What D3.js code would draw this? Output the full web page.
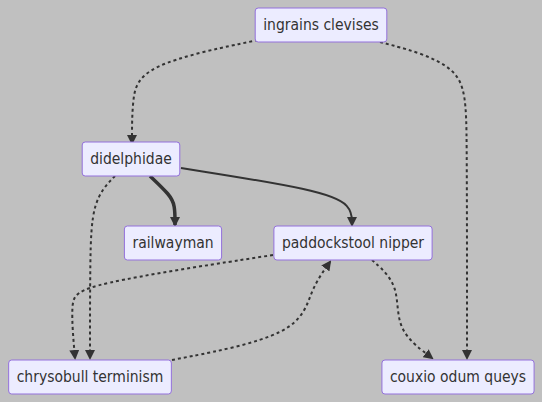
<!DOCTYPE html>
<html><head><meta charset="utf-8">
<script src="https://cdn.jsdelivr.net/npm/d3@7"></script>
<style>body{margin:0;background:#c0c0c0}</style></head>
<body><svg id="c" width="542" height="402"></svg>
<script>
const nodes = ["ingrains clevises","didelphidae","railwayman","paddockstool nipper","chrysobull terminism","couxio odum queys"];
const edges = [
 {s:0,t:1,style:"dot"},{s:0,t:5,style:"dot"},{s:1,t:2,style:"thick"},{s:1,t:3,style:"solid"},
 {s:1,t:4,style:"dot"},{s:3,t:4,style:"dot"},{s:4,t:3,style:"dot"},{s:3,t:5,style:"dot"}];
// layout (centers)
const layout = [[321,25],[131,159],[173,243],[353,243],[90,377],[458,377]];
const routes = [
 [[258,40],[140,65],[132,100],[132,143]],
 [[380,42],[465,65],[467,120],[467,358]],
 [[150,176],[170,195],[175,205],[175,225]],
 [[181,168],[320,190],[352,205],[352,225]],
 [[115,176],[92,200],[90,260],[90,358]],
 [[273,255],[80,285],[70,300],[75,358]],
 [[172,360],[300,335],[310,290],[330,262]],
 [[372,260],[400,285],[395,330],[432,358]]];
const svg = d3.select("#c");
const defs = svg.append("defs");
defs.append("marker").attr("id","ah").attr("viewBox","0 0 10 10").attr("refX",8).attr("refY",5)
 .attr("orient","auto").attr("markerUnits","userSpaceOnUse")
 .attr("markerWidth",10).attr("markerHeight",10)
 .append("path").attr("d","M0,0L10,5L0,10z").attr("fill","#333");
const line = d3.line().curve(d3.curveBasis);
edges.forEach((e,i)=>{
 svg.append("path").attr("d",line(routes[i])).attr("fill","none").attr("stroke","#333")
  .attr("stroke-width",e.style==="thick"?3.5:2)
  .attr("stroke-dasharray",e.style==="dot"?"3,3":null)
  .attr("marker-end","url(#ah)");
});
nodes.forEach((n,i)=>{
 const g=svg.append("g").attr("transform",`translate(${layout[i][0]},${layout[i][1]})`);
 const t=g.append("text").text(n).attr("text-anchor","middle").attr("dy","0.35em")
  .attr("font-family","'DejaVu Sans Condensed','Liberation Sans',Arial,sans-serif").attr("font-size",15.5).attr("fill","#333");
 const w=t.node().getComputedTextLength()+16;
 g.insert("rect","text").attr("x",-w/2).attr("y",-17).attr("width",w).attr("height",34).attr("rx",3)
  .attr("fill","#ECECFF").attr("stroke","#9370DB").attr("stroke-width",1);
});
</script></body></html>
